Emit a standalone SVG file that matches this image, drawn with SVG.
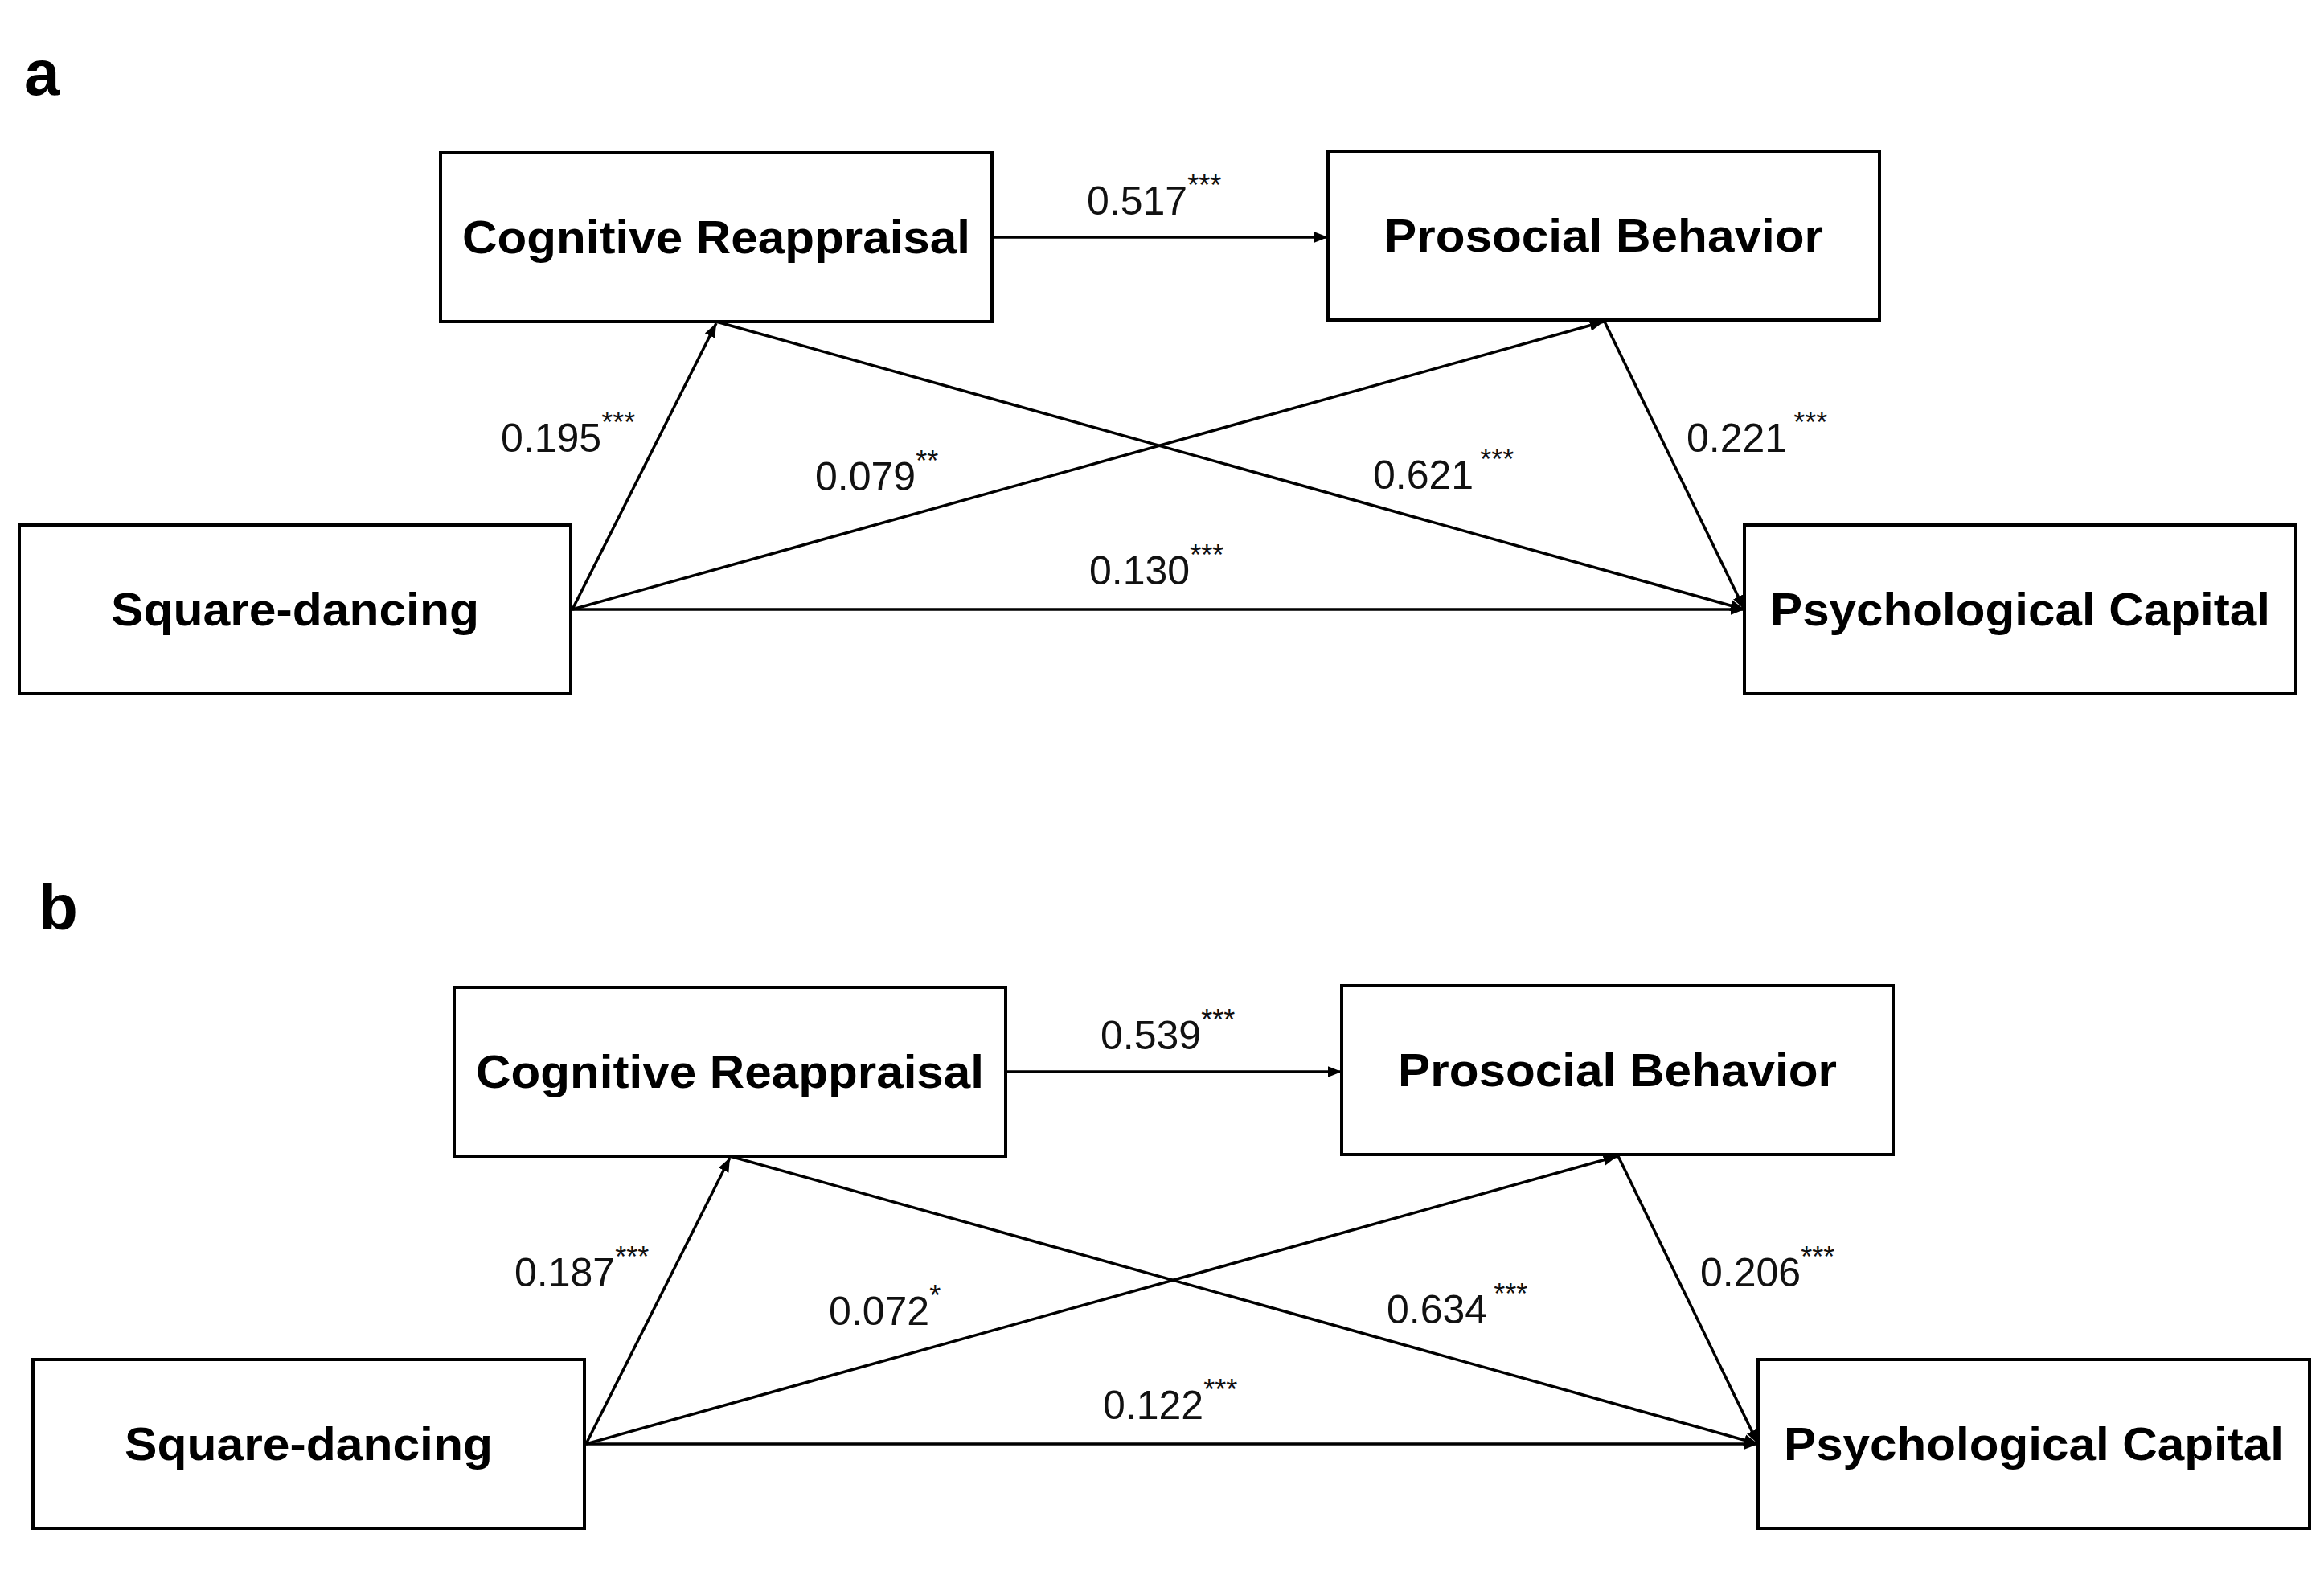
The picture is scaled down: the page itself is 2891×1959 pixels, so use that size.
<svg xmlns="http://www.w3.org/2000/svg" width="2891" height="1959" viewBox="0 0 2891 1959">
<style>
.box{fill:#fff;stroke:#000;stroke-width:4}
.nt{font-family:"Liberation Sans",Arial,sans-serif;font-weight:bold;font-size:58px;text-anchor:middle}
.lb{font-family:"Liberation Sans",Arial,sans-serif;font-size:50px;fill:#111}
.sup{font-size:36px}
.pl{font-family:"Liberation Sans",Arial,sans-serif;font-weight:bold;font-size:80px}
.e{stroke:#000;stroke-width:3.5;fill:none;marker-end:url(#ah)}
</style>
<defs>
<marker id="ah" viewBox="0 0 10 10" refX="10" refY="5" markerWidth="5" markerHeight="5" orient="auto" markerUnits="strokeWidth">
<path d="M0,1 L10,5 L0,9 z" fill="#000"/>
</marker>
</defs>
<rect width="2891" height="1959" fill="#fff"/>
<text class="pl" x="30" y="118">a</text>
<text class="pl" x="48" y="1156">b</text>
<g id="panel-a">
<g id="connectors-a">
<line class="e" x1="1234" y1="295" x2="1652" y2="295"/>
<line class="e" x1="712" y1="758" x2="891" y2="402"/>
<line class="e" x1="712" y1="758" x2="1995" y2="400"/>
<line class="e" x1="891" y1="400" x2="2170" y2="758"/>
<line class="e" x1="1995" y1="398" x2="2170" y2="758"/>
<line class="e" x1="712" y1="758" x2="2170" y2="758"/>
<text class="lb" x="1352" y="267">0.517<tspan class="sup" dy="-24">***</tspan></text>
<text class="lb" x="623" y="562">0.195<tspan class="sup" dy="-24">***</tspan></text>
<text class="lb" x="1014" y="610">0.079<tspan class="sup" dy="-24">**</tspan></text>
<text class="lb" x="1708" y="608">0.621<tspan class="sup" dy="-24" dx="8">***</tspan></text>
<text class="lb" x="2098" y="562">0.221<tspan class="sup" dy="-24" dx="8">***</tspan></text>
<text class="lb" x="1355" y="727">0.130<tspan class="sup" dy="-24">***</tspan></text>
</g>
<g id="a-cr"><rect class="box" x="548" y="190" width="686" height="210"/><text class="nt" x="891" y="315" textLength="632" lengthAdjust="spacingAndGlyphs">Cognitive Reappraisal</text></g>
<g id="a-pb"><rect class="box" x="1652" y="188" width="686" height="210"/><text class="nt" x="1995" y="313" textLength="546" lengthAdjust="spacingAndGlyphs">Prosocial Behavior</text></g>
<g id="a-sd"><rect class="box" x="24" y="653" width="686" height="210"/><text class="nt" x="367" y="778" textLength="458" lengthAdjust="spacingAndGlyphs">Square-dancing</text></g>
<g id="a-pc"><rect class="box" x="2170" y="653" width="686" height="210"/><text class="nt" x="2513" y="778" textLength="622" lengthAdjust="spacingAndGlyphs">Psychological Capital</text></g>
</g>
<g id="panel-b" transform="translate(17,1038)">
<g id="connectors-b">
<line class="e" x1="1234" y1="295" x2="1652" y2="295"/>
<line class="e" x1="712" y1="758" x2="891" y2="402"/>
<line class="e" x1="712" y1="758" x2="1995" y2="400"/>
<line class="e" x1="891" y1="400" x2="2170" y2="758"/>
<line class="e" x1="1995" y1="398" x2="2170" y2="758"/>
<line class="e" x1="712" y1="758" x2="2170" y2="758"/>
<text class="lb" x="1352" y="267">0.539<tspan class="sup" dy="-24">***</tspan></text>
<text class="lb" x="623" y="562">0.187<tspan class="sup" dy="-24">***</tspan></text>
<text class="lb" x="1014" y="610">0.072<tspan class="sup" dy="-24">*</tspan></text>
<text class="lb" x="1708" y="608">0.634<tspan class="sup" dy="-24" dx="8">***</tspan></text>
<text class="lb" x="2098" y="562">0.206<tspan class="sup" dy="-24">***</tspan></text>
<text class="lb" x="1355" y="727">0.122<tspan class="sup" dy="-24">***</tspan></text>
</g>
<g id="b-cr"><rect class="box" x="548" y="190" width="686" height="210"/><text class="nt" x="891" y="315" textLength="632" lengthAdjust="spacingAndGlyphs">Cognitive Reappraisal</text></g>
<g id="b-pb"><rect class="box" x="1652" y="188" width="686" height="210"/><text class="nt" x="1995" y="313" textLength="546" lengthAdjust="spacingAndGlyphs">Prosocial Behavior</text></g>
<g id="b-sd"><rect class="box" x="24" y="653" width="686" height="210"/><text class="nt" x="367" y="778" textLength="458" lengthAdjust="spacingAndGlyphs">Square-dancing</text></g>
<g id="b-pc"><rect class="box" x="2170" y="653" width="686" height="210"/><text class="nt" x="2513" y="778" textLength="622" lengthAdjust="spacingAndGlyphs">Psychological Capital</text></g>
</g>
</svg>
